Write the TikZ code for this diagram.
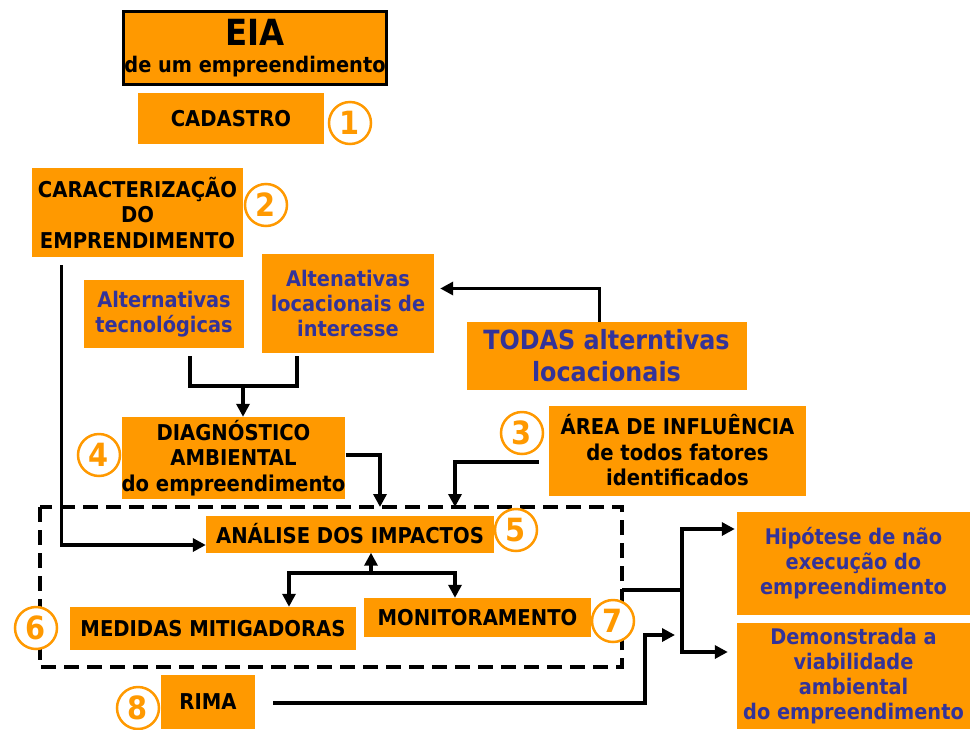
\documentclass[tikz,border=0pt]{standalone}
\usepackage{fontspec}
\setmainfont{DejaVu Sans Condensed}
\usetikzlibrary{arrows.meta, calc}
\definecolor{laranja}{RGB}{255,153,0}
\definecolor{azul}{RGB}{51,51,153}

\begin{document}
\begin{tikzpicture}[x=1pt, y=-1pt,
box/.style={fill=laranja, inner sep=0pt, align=center, font=\fontsize{21.8}{25.5}\selectfont\bfseries},
blue/.style={box, text=azul, font=\fontsize{21.5}{25}\selectfont\bfseries},
num/.style={circle, draw=laranja, line width=2.5pt, fill=white, minimum size=42pt, inner sep=0pt, text=laranja, font=\fontsize{32}{32}\selectfont\bfseries},
line/.style={line width=3.5pt},
arr/.style={line, -{Triangle[length=13pt,width=13pt]}},
dashframe/.style={line width=4pt, dash pattern=on 15pt off 8pt}]
\useasboundingbox (0,0) rectangle (970,729);
\node[box, draw=black, line width=3pt, minimum width=263pt, minimum height=73pt] (eia) at (255,48)
  {{\fontsize{36}{36}\selectfont EIA}\\[2pt]{\fontsize{21.5}{22}\selectfont de um empreendimento}};
\node[box, minimum width=186pt, minimum height=51pt] (cad) at (231,118.5) {CADASTRO};
\node[box, minimum width=211pt, minimum height=89pt] (carac) at (137.5,212.5) {CARACTERIZAÇÃO\\DO\\EMPRENDIMENTO};
\node[blue, minimum width=160pt, minimum height=68pt] (alttec) at (164,314) {Alternativas\\tecnológicas};
\node[blue, minimum width=172pt, minimum height=99pt] (altloc) at (348,303.5) {Altenativas\\locacionais de\\interesse};
\node[blue, minimum width=280pt, minimum height=68pt, font=\fontsize{26.5}{32}\selectfont\bfseries] (todas) at (606.5,356) {TODAS alterntivas\\locacionais};
\node[box, minimum width=257pt, minimum height=90pt] (area) at (677.5,450.5) {ÁREA DE INFLUÊNCIA\\de todos fatores\\identificados};
\node[box, minimum width=219pt, minimum height=82pt] (diag) at (233.5,458) {DIAGNÓSTICO\\AMBIENTAL\\do empreendimento};
\node[box, minimum width=288pt, minimum height=37pt] (analise) at (350,534) {ANÁLISE DOS IMPACTOS};
\node[box, minimum width=286pt, minimum height=43pt] (medidas) at (213,628.5) {MEDIDAS MITIGADORAS};
\node[box, minimum width=227pt, minimum height=39pt] (monit) at (477.5,617.5) {MONITORAMENTO};
\node[box, minimum width=94pt, minimum height=54pt] (rima) at (208,702) {RIMA};
\node[blue, minimum width=233pt, minimum height=103pt] (hip) at (853.5,563.5) {Hipótese de não\\execução do\\empreendimento};
\node[blue, minimum width=233pt, minimum height=106pt] (demo) at (853.5,676) {Demonstrada a\\viabilidade\\ambiental\\do empreendimento};

\coordinate (br) at (243,386);
\coordinate (in1) at (380,507);
\coordinate (in2) at (455,507);
\coordinate (split) at (371,573);
\coordinate (out) at (622,590);
\coordinate (fork) at (682,590);
\coordinate (rimain) at (675,635);

\draw[dashframe] (40,507) rectangle (622,667);
\draw[arr] ([xshift=-7pt]todas.north) |- ([xshift=6pt,yshift=15pt]altloc.east);
\draw[line] ([xshift=26pt,yshift=-8pt]alttec.south) |- (br) -| ([xshift=-51pt,yshift=-3pt]altloc.south);
\draw[arr] (br) -- (diag.north -| br);
\draw[arr] ([yshift=3pt]diag.east) -| (in1);
\draw[arr] ([xshift=-10pt,yshift=-11.5pt]area.west) -| (in2);
\draw[arr] ([xshift=-76pt,yshift=-8pt]carac.south) |- ([yshift=-11pt]analise.west);
\draw[arr] (split) -- (analise.south -| split);
\draw[arr] (split) -| ([xshift=76pt]medidas.north);
\draw[arr] (split) -| ([xshift=-22.5pt]monit.north);
\draw[line] (out) -- (fork);
\draw[arr] (fork) |- ([xshift=-2pt,yshift=34.5pt]hip.west);
\draw[arr] (fork) |- ([xshift=-9pt,yshift=24pt]demo.west);
\draw[arr] ([xshift=18pt,yshift=-1pt]rima.east) -| ([xshift=-30pt]rimain) -- (rimain);

\node[num] (n1) at (350,123) {1};
\node[num] (n2) at (266,205) {2};
\node[num] (n3) at (522,433) {3};
\node[num] (n4) at (99,455) {4};
\node[num] (n5) at (516,530) {5};
\node[num] (n6) at (36,628) {6};
\node[num] (n7) at (613,621) {7};
\node[num] (n8) at (138,708) {8};
\end{tikzpicture}
\end{document}
